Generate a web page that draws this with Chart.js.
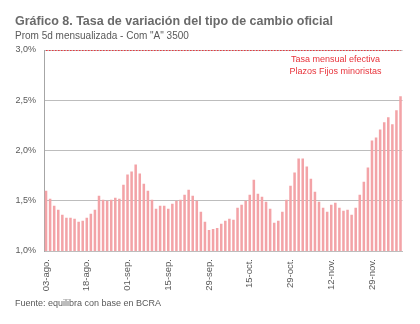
<!DOCTYPE html>
<html>
<head>
<meta charset="utf-8">
<script src="https://cdn.jsdelivr.net/npm/chart.js@4.4.1/dist/chart.umd.min.js"></script>
<style>
  html, body { margin: 0; padding: 0; background: #fff; }
</style>
</head>
<body>
<canvas id="chart" width="420" height="324"></canvas>
<script>
// texts
const titleText = 'Gráfico 8. Tasa de variación del tipo de cambio oficial';
const subtitleText = 'Prom 5d mensualizada - Com "A" 3500';
const sourceText = 'Fuente: equilibra con base en BCRA';
const refLabel = ['Tasa mensual efectiva', 'Plazos Fijos minoristas'];

// x axis: one label every 10 business days
const tickLabels = ['03-ago.', '18-ago.', '01-sep.', '15-sep.', '29-sep.', '15-oct.', '29-oct.', '12-nov.', '29-nov.'];

// tasa de variación mensualizada (%), one per business day
const rateValues = [
  1.60, 1.52, 1.45, 1.41, 1.36, 1.33, 1.33, 1.32, 1.29, 1.30,
  1.33, 1.37, 1.41, 1.55, 1.51, 1.50, 1.51, 1.53, 1.52, 1.66,
  1.76, 1.79, 1.86, 1.77, 1.67, 1.60, 1.51, 1.42, 1.45, 1.45,
  1.42, 1.47, 1.50, 1.51, 1.56, 1.61, 1.55, 1.50, 1.39, 1.29,
  1.21, 1.22, 1.23, 1.27, 1.30, 1.32, 1.31, 1.43, 1.46, 1.50,
  1.56, 1.71, 1.57, 1.54, 1.49, 1.42, 1.28, 1.30, 1.39, 1.51,
  1.65, 1.78, 1.92, 1.92, 1.84, 1.72, 1.59, 1.49, 1.43, 1.39,
  1.46, 1.48, 1.43, 1.40, 1.41, 1.36, 1.43, 1.56, 1.69, 1.83,
  2.10, 2.13, 2.21, 2.28, 2.33, 2.26, 2.40, 2.54
];

// tasa mensual efectiva plazos fijos minoristas (%)
const refRate = 3.0;

// y axis
const yMin = 1.0;
const yMax = 3.0;
const yStep = 0.5;

const categories = rateValues.map((v, i) => (i % 10 === 0 ? tickLabels[i / 10] : ''));
const refValues = rateValues.map(() => refRate);

const grey = '#595959';
const red = '#e8333b';
const font = "'Liberation Sans', Arial, sans-serif";

const textPlugin = {
  id: 'texts',
  afterDraw(chart) {
    const ctx = chart.ctx;
    const area = chart.chartArea;
    ctx.save();
    ctx.textAlign = 'left';
    ctx.textBaseline = 'alphabetic';
    ctx.fillStyle = '#6a6a6a';
    ctx.font = 'bold 12.5px ' + font;
    ctx.fillText(titleText, 15, 25);
    ctx.fillStyle = grey;
    ctx.font = '10px ' + font;
    ctx.fillText(subtitleText, 15, 39);
    ctx.font = '9px ' + font;
    ctx.fillText(sourceText, 15, 306);

    // label of the reference line
    ctx.fillStyle = red;
    ctx.textAlign = 'center';
    ctx.font = '9px ' + font;
    const cx = area.right - 67;
    ctx.fillText(refLabel[0], cx, area.top + 12);
    ctx.fillText(refLabel[1], cx, area.top + 24);
    ctx.restore();
  }
};

new Chart(document.getElementById('chart'), {
  data: {
    labels: categories,
    datasets: [{
      type: 'line',
      label: refLabel.join(' '),
      data: refValues,
      borderColor: red,
      borderWidth: 2,
      borderDash: [1.5, 1.5],
      pointRadius: 0,
      order: 0
    }, {
      type: 'bar',
      label: 'Tasa de variación',
      data: rateValues,
      backgroundColor: '#f3a3a7',
      barPercentage: 0.62,
      categoryPercentage: 1.0,
      order: 1
    }]
  },
  options: {
    responsive: false,
    animation: false,
    layout: { padding: { top: 50, left: 15, right: 15, bottom: 27 } },
    plugins: {
      legend: { display: false },
      tooltip: { enabled: false }
    },
    scales: {
      x: {
        grid: { display: false, drawTicks: false },
        border: { color: '#bdbdbd' },
        ticks: {
          autoSkip: false,
          minRotation: 90,
          maxRotation: 90,
          padding: 8,
          color: grey,
          font: { family: font, size: 9.5 },
          callback: (v, i) => categories[i]
        },
        afterFit: scale => { scale.height = 46; }
      },
      y: {
        min: yMin,
        max: yMax,
        grid: { color: '#bdbdbd', drawTicks: false },
        border: { color: '#a6a6a6' },
        ticks: {
          stepSize: yStep,
          padding: 8,
          color: grey,
          font: { family: font, size: 9 },
          callback: v => v.toFixed(1).replace('.', ',') + '%'
        },
        afterFit: scale => { scale.width = 29; }
      }
    }
  },
  plugins: [textPlugin]
});
</script>
</body>
</html>
